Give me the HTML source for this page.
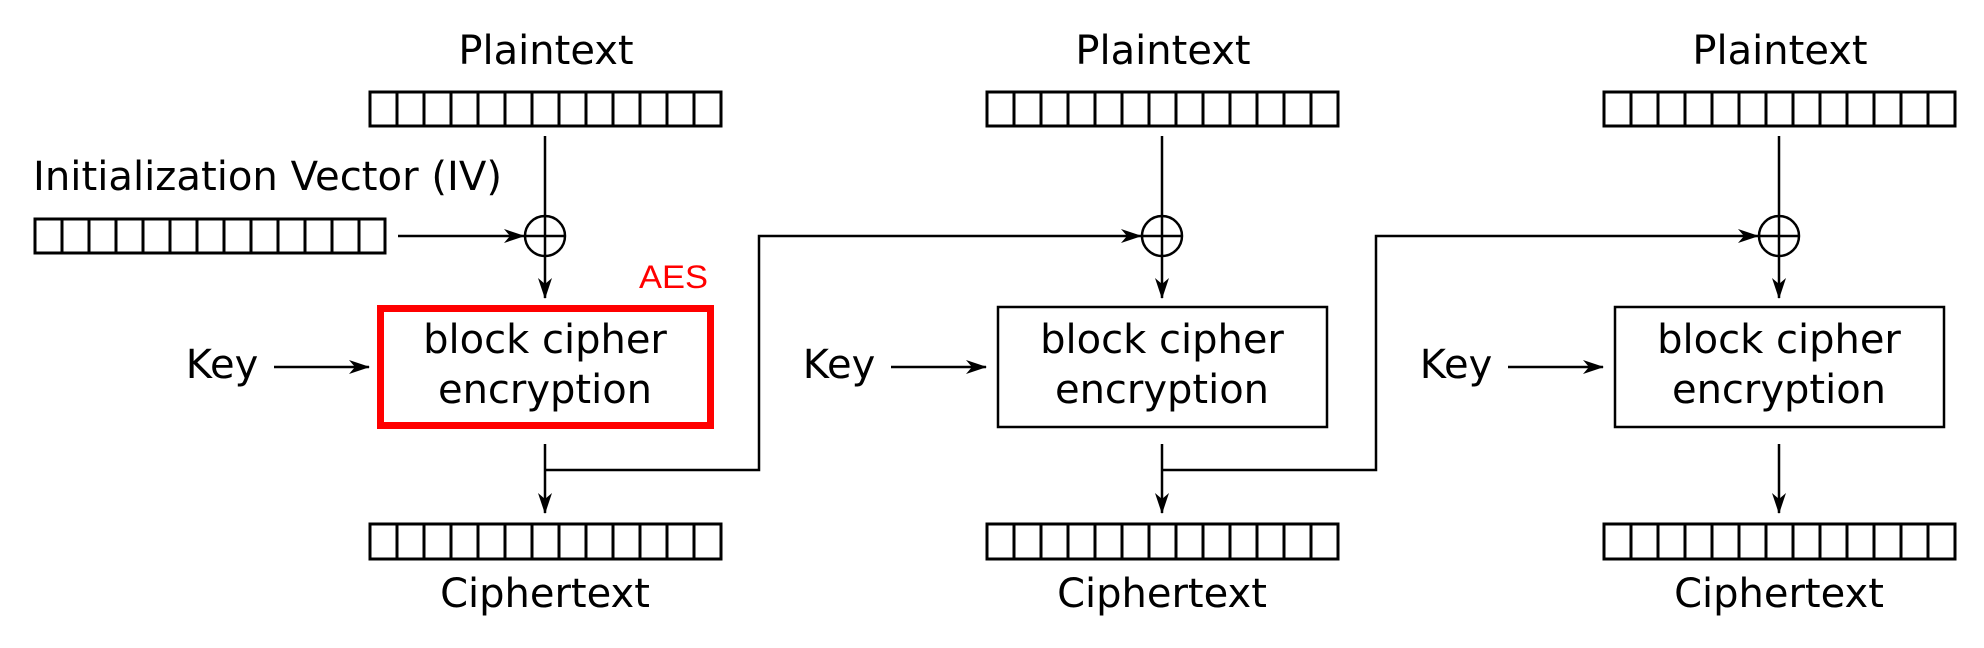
<!DOCTYPE html>
<html><head><meta charset="utf-8"><style>
html,body{margin:0;padding:0;background:#fff;}
svg{display:block;}
text{font-family:"DejaVu Sans","Liberation Sans",sans-serif;fill:#000;}
</style></head><body>
<svg width="1984" height="648" viewBox="0 0 1984 648" xmlns="http://www.w3.org/2000/svg">
<defs>
<marker id="ah" markerWidth="22" markerHeight="16" refX="20" refY="8" orient="auto" markerUnits="userSpaceOnUse">
<path d="M0,1 L21,8 L0,15 L6,8 z" fill="#000"/>
</marker>
<pattern id="cells" x="370" y="0" width="27" height="648" patternUnits="userSpaceOnUse">
<line x1="0" y1="0" x2="0" y2="648" stroke="#000" stroke-width="3"/>
</pattern>
</defs>
<g stroke="#000" stroke-width="3" fill="none">
<!-- plaintext & cipher blocks -->
<g id="blk">
</g>
</g>
<!-- blocks built explicitly -->
<g stroke="#000" stroke-width="3" fill="#fff">
<rect x="370" y="92" width="351" height="34"/>
<rect x="987" y="92" width="351" height="34"/>
<rect x="1604" y="92" width="351" height="34"/>
<rect x="370" y="524" width="351" height="35"/>
<rect x="987" y="524" width="351" height="35"/>
<rect x="1604" y="524" width="351" height="35"/>
<rect x="35" y="219" width="350" height="34"/>
</g>
<g stroke="#000" stroke-width="3">
<path d="M397,92V126M424,92V126M451,92V126M478,92V126M505,92V126M532,92V126M559,92V126M586,92V126M613,92V126M640,92V126M667,92V126M694,92V126"/>
<path d="M1014,92V126M1041,92V126M1068,92V126M1095,92V126M1122,92V126M1149,92V126M1176,92V126M1203,92V126M1230,92V126M1257,92V126M1284,92V126M1311,92V126"/>
<path d="M1631,92V126M1658,92V126M1685,92V126M1712,92V126M1739,92V126M1766,92V126M1793,92V126M1820,92V126M1847,92V126M1874,92V126M1901,92V126M1928,92V126"/>
<path d="M397,524V559M424,524V559M451,524V559M478,524V559M505,524V559M532,524V559M559,524V559M586,524V559M613,524V559M640,524V559M667,524V559M694,524V559"/>
<path d="M1014,524V559M1041,524V559M1068,524V559M1095,524V559M1122,524V559M1149,524V559M1176,524V559M1203,524V559M1230,524V559M1257,524V559M1284,524V559M1311,524V559"/>
<path d="M1631,524V559M1658,524V559M1685,524V559M1712,524V559M1739,524V559M1766,524V559M1793,524V559M1820,524V559M1847,524V559M1874,524V559M1901,524V559M1928,524V559"/>
<path d="M62,219V253M89,219V253M116,219V253M143,219V253M170,219V253M197,219V253M224,219V253M251,219V253M278,219V253M305,219V253M332,219V253M359,219V253"/>
</g>
<!-- connectors -->
<g stroke="#000" stroke-width="2.5" fill="none">
<line x1="545" y1="136" x2="545" y2="298" marker-end="url(#ah)"/>
<line x1="1162" y1="136" x2="1162" y2="298" marker-end="url(#ah)"/>
<line x1="1779" y1="136" x2="1779" y2="298" marker-end="url(#ah)"/>
<circle cx="545" cy="236" r="20"/>
<circle cx="1162" cy="236" r="20"/>
<circle cx="1779" cy="236" r="20"/>
<line x1="525" y1="236" x2="565" y2="236"/>
<line x1="1142" y1="236" x2="1182" y2="236"/>
<line x1="1759" y1="236" x2="1799" y2="236"/>
<line x1="398" y1="236" x2="524" y2="236" marker-end="url(#ah)"/>
<line x1="274" y1="367" x2="369" y2="367" marker-end="url(#ah)"/>
<line x1="891" y1="367" x2="986" y2="367" marker-end="url(#ah)"/>
<line x1="1508" y1="367" x2="1603" y2="367" marker-end="url(#ah)"/>
<line x1="545" y1="444" x2="545" y2="513" marker-end="url(#ah)"/>
<line x1="1162" y1="444" x2="1162" y2="513" marker-end="url(#ah)"/>
<line x1="1779" y1="444" x2="1779" y2="513" marker-end="url(#ah)"/>
<polyline points="545,470 759,470 759,236 1141,236" marker-end="url(#ah)"/>
<polyline points="1162,470 1376,470 1376,236 1758,236" marker-end="url(#ah)"/>
</g>
<!-- cipher boxes -->
<rect x="380.5" y="308.5" width="330" height="117" fill="none" stroke="#ff0000" stroke-width="7"/>
<rect x="998" y="307" width="329" height="120" fill="none" stroke="#000" stroke-width="2.5"/>
<rect x="1615" y="307" width="329" height="120" fill="none" stroke="#000" stroke-width="2.5"/>
<!-- text -->
<g font-size="40" text-anchor="middle">
<text x="546" y="64">Plaintext</text>
<text x="1163" y="64">Plaintext</text>
<text x="1780" y="64">Plaintext</text>
<text x="545" y="607">Ciphertext</text>
<text x="1162" y="607">Ciphertext</text>
<text x="1779" y="607">Ciphertext</text>
<text x="545" y="353">block cipher</text>
<text x="545" y="403">encryption</text>
<text x="1162" y="353">block cipher</text>
<text x="1162" y="403">encryption</text>
<text x="1779" y="353">block cipher</text>
<text x="1779" y="403">encryption</text>
<text x="222" y="378">Key</text>
<text x="839" y="378">Key</text>
<text x="1456" y="378">Key</text>
</g>
<text x="33" y="190" font-size="40" textLength="469" lengthAdjust="spacingAndGlyphs">Initialization Vector (IV)</text>
<text x="639" y="288" font-size="32" style="fill:#ff0000;font-family:'Liberation Sans',sans-serif" textLength="69" lengthAdjust="spacingAndGlyphs">AES</text>
</svg>
</body></html>
